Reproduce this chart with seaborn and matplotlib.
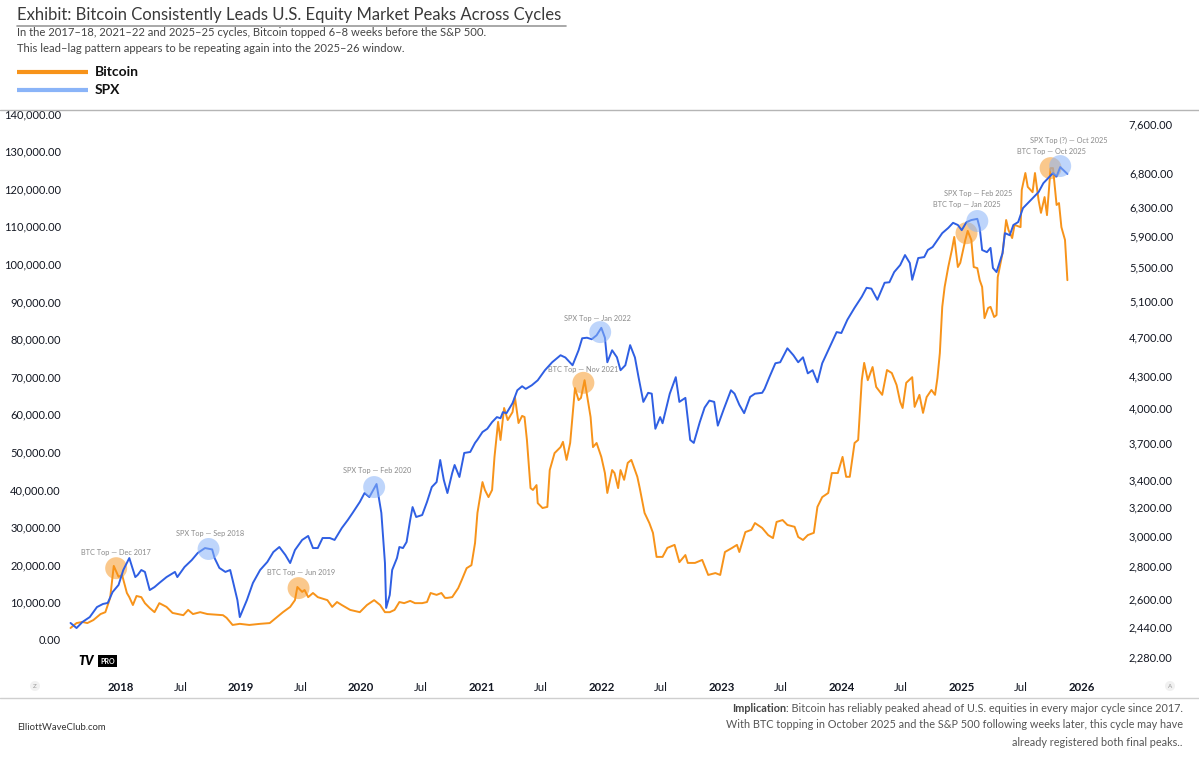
import pandas as pd
import matplotlib
matplotlib.use("Agg")
import matplotlib.pyplot as plt
from matplotlib.lines import Line2D
from matplotlib.patches import Rectangle
from matplotlib.ticker import FixedLocator, FuncFormatter, NullLocator
import seaborn as sns

# weekly-ish closes (decimal years)
btc_years = [
    2017.58, 2017.63, 2017.68, 2017.72, 2017.77, 2017.83, 2017.87, 2017.91, 2017.94, 2017.98,
    2018.01, 2018.05, 2018.07, 2018.10, 2018.13, 2018.17, 2018.20, 2018.24, 2018.28, 2018.32,
    2018.38, 2018.43, 2018.52, 2018.56, 2018.60, 2018.66, 2018.72, 2018.85, 2018.88, 2018.93,
    2018.99, 2019.07, 2019.16, 2019.24, 2019.30, 2019.35, 2019.41, 2019.45, 2019.47, 2019.51,
    2019.53, 2019.56, 2019.60, 2019.64, 2019.72, 2019.76, 2019.80, 2019.84, 2019.91, 2019.99,
    2020.05, 2020.11, 2020.16, 2020.20, 2020.24, 2020.28, 2020.32, 2020.36, 2020.41, 2020.45,
    2020.51, 2020.55, 2020.58, 2020.63, 2020.67, 2020.70, 2020.72, 2020.76, 2020.81, 2020.84,
    2020.88, 2020.92, 2020.95, 2020.97, 2021.01, 2021.03, 2021.06, 2021.09, 2021.11, 2021.14,
    2021.16, 2021.19, 2021.22, 2021.26, 2021.28, 2021.31, 2021.34, 2021.36, 2021.38, 2021.41,
    2021.43, 2021.46, 2021.47, 2021.51, 2021.55, 2021.57, 2021.61, 2021.66, 2021.68, 2021.71,
    2021.74, 2021.78, 2021.81, 2021.83, 2021.86, 2021.88, 2021.91, 2021.93, 2021.96, 2022.00,
    2022.03, 2022.05, 2022.09, 2022.11, 2022.14, 2022.16, 2022.19, 2022.22, 2022.25, 2022.30,
    2022.32, 2022.36, 2022.40, 2022.43, 2022.46, 2022.49, 2022.51, 2022.55, 2022.61, 2022.65,
    2022.70, 2022.72, 2022.78, 2022.84, 2022.89, 2022.95, 2022.99, 2023.03, 2023.09, 2023.13,
    2023.15, 2023.20, 2023.25, 2023.28, 2023.34, 2023.39, 2023.43, 2023.46, 2023.51, 2023.55,
    2023.61, 2023.64, 2023.68, 2023.72, 2023.77, 2023.80, 2023.84, 2023.89, 2023.92, 2023.97,
    2024.01, 2024.04, 2024.07, 2024.11, 2024.14, 2024.17, 2024.19, 2024.22, 2024.26, 2024.29,
    2024.34, 2024.38, 2024.42, 2024.46, 2024.49, 2024.51, 2024.54, 2024.59, 2024.61, 2024.65,
    2024.68, 2024.71, 2024.75, 2024.78, 2024.80, 2024.82, 2024.84, 2024.86, 2024.89, 2024.92,
    2024.94, 2024.97, 2024.99, 2025.03, 2025.05, 2025.08, 2025.10, 2025.13, 2025.15, 2025.17,
    2025.19, 2025.22, 2025.24, 2025.27, 2025.29, 2025.30, 2025.34, 2025.37, 2025.39, 2025.42,
    2025.44, 2025.49, 2025.50, 2025.53, 2025.55, 2025.59, 2025.61, 2025.64, 2025.66, 2025.69,
    2025.71, 2025.74, 2025.76, 2025.79, 2025.81, 2025.83, 2025.86, 2025.88,
]
btc_close = [
    3190, 4500, 4800, 4500, 5300, 6900, 7400, 11200, 19700, 16800,
    17300, 12500, 11400, 9300, 11700, 11400, 9800, 8500, 7400, 9800,
    8800, 7200, 6600, 8000, 6900, 7400, 6900, 6600, 5900, 4000,
    4300, 4000, 4300, 4500, 6100, 7400, 8800, 10600, 14100, 12800,
    13300, 11400, 12500, 11400, 10600, 8800, 10100, 9300, 8000, 7400,
    9300, 10600, 9300, 7400, 7400, 8000, 10100, 9800, 10400, 9800,
    9800, 10100, 12500, 12000, 12500, 11200, 11200, 11400, 13800, 16000,
    19100, 19900, 25800, 33800, 42000, 39900, 38000, 39900, 48700, 58000,
    53200, 61700, 58500, 60600, 64600, 57700, 59600, 59300, 53200, 40400,
    39900, 41200, 36400, 35100, 35400, 45200, 49700, 51300, 52700, 47900,
    52400, 67000, 63800, 64400, 69100, 65200, 59300, 51300, 52400, 48700,
    44400, 39100, 45200, 44400, 40400, 45200, 42600, 47100, 47900, 43400,
    40400, 33800, 31100, 28500, 22100, 22100, 22100, 24500, 25300, 20700,
    22600, 20500, 20500, 21300, 17300, 17800, 17300, 23400, 24500, 25300,
    23400, 28700, 29300, 31100, 29800, 27900, 27100, 31400, 31900, 30600,
    30100, 27400, 26600, 27900, 28500, 35400, 38000, 39100, 44400, 44400,
    48700, 43400, 43400, 52400, 53200, 69100, 73700, 69100, 72600, 67300,
    65200, 71800, 71000, 67800, 63300, 61700, 68400, 69900, 62000, 65200,
    60400, 64600, 66500, 65200, 69700, 76300, 88600, 93900, 99200, 103700,
    107200, 99200, 100300, 106400, 108800, 106400, 99200, 98900, 95700, 93900,
    85600, 88300, 88600, 85900, 86400, 96500, 102900, 111700, 109000, 106900,
    110400, 109800, 119700, 124200, 120500, 119100, 124200, 117000, 113600, 117800,
    113000, 125500, 125500, 115700, 116200, 109800, 106400, 95700,
]

spx_years = [
    2017.58, 2017.63, 2017.68, 2017.74, 2017.80, 2017.85, 2017.89, 2017.93, 2017.98, 2018.02,
    2018.07, 2018.12, 2018.14, 2018.17, 2018.20, 2018.24, 2018.28, 2018.32, 2018.38, 2018.45,
    2018.47, 2018.53, 2018.59, 2018.64, 2018.70, 2018.76, 2018.78, 2018.82, 2018.87, 2018.91,
    2018.93, 2018.97, 2018.99, 2019.05, 2019.10, 2019.16, 2019.22, 2019.27, 2019.32, 2019.37,
    2019.41, 2019.45, 2019.51, 2019.56, 2019.60, 2019.64, 2019.68, 2019.74, 2019.78, 2019.84,
    2019.89, 2019.93, 2019.99, 2020.03, 2020.07, 2020.13, 2020.17, 2020.20, 2020.21, 2020.24,
    2020.26, 2020.30, 2020.32, 2020.35, 2020.38, 2020.41, 2020.43, 2020.46, 2020.51, 2020.55,
    2020.59, 2020.63, 2020.66, 2020.69, 2020.72, 2020.76, 2020.78, 2020.82, 2020.86, 2020.91,
    2020.95, 2020.97, 2021.01, 2021.05, 2021.09, 2021.13, 2021.16, 2021.18, 2021.21, 2021.26,
    2021.30, 2021.34, 2021.37, 2021.42, 2021.47, 2021.53, 2021.59, 2021.66, 2021.70, 2021.76,
    2021.81, 2021.84, 2021.88, 2021.92, 2021.96, 2022.00, 2022.03, 2022.05, 2022.09, 2022.13,
    2022.16, 2022.20, 2022.24, 2022.28, 2022.31, 2022.35, 2022.39, 2022.42, 2022.45, 2022.49,
    2022.51, 2022.57, 2022.62, 2022.65, 2022.70, 2022.74, 2022.77, 2022.82, 2022.86, 2022.90,
    2022.94, 2022.97, 2023.02, 2023.08, 2023.11, 2023.15, 2023.19, 2023.24, 2023.28, 2023.34,
    2023.36, 2023.40, 2023.45, 2023.49, 2023.55, 2023.60, 2023.64, 2023.68, 2023.72, 2023.76,
    2023.80, 2023.84, 2023.89, 2023.96, 2024.00, 2024.05, 2024.11, 2024.17, 2024.21, 2024.25,
    2024.30, 2024.36, 2024.40, 2024.44, 2024.49, 2024.53, 2024.57, 2024.59, 2024.64, 2024.69,
    2024.72, 2024.76, 2024.80, 2024.84, 2024.89, 2024.93, 2024.97, 2025.00, 2025.04, 2025.08,
    2025.13, 2025.15, 2025.17, 2025.21, 2025.24, 2025.26, 2025.29, 2025.34, 2025.36, 2025.40,
    2025.43, 2025.47, 2025.51, 2025.55, 2025.59, 2025.64, 2025.68, 2025.72, 2025.76, 2025.79,
    2025.82, 2025.84, 2025.88,
]
spx_close = [
    2462, 2434, 2468, 2495, 2552, 2570, 2576, 2640, 2683, 2775,
    2851, 2731, 2744, 2775, 2763, 2652, 2670, 2695, 2731, 2763,
    2731, 2794, 2838, 2884, 2916, 2907, 2851, 2788, 2763, 2775,
    2714, 2593, 2495, 2593, 2695, 2775, 2826, 2890, 2923, 2871,
    2819, 2903, 2970, 2997, 2916, 2916, 2983, 2983, 2970, 3051,
    3107, 3157, 3236, 3302, 3272, 3370, 3157, 2819, 2547, 2623,
    2775, 2851, 2923, 2916, 2956, 3107, 3199, 3128, 3142, 3236,
    3347, 3385, 3558, 3401, 3302, 3455, 3518, 3424, 3615, 3623,
    3698, 3725, 3790, 3818, 3876, 3920, 3910, 3964, 3955, 4045,
    4165, 4203, 4178, 4212, 4260, 4358, 4437, 4508, 4485, 4407,
    4559, 4684, 4690, 4674, 4716, 4796, 4690, 4437, 4559, 4487,
    4358, 4407, 4612, 4485, 4290, 4057, 4141, 4133, 3818, 3920,
    3866, 4133, 4290, 4057, 4094, 3723, 3698, 3876, 4005, 4069,
    4057, 3845, 3990, 4165, 4133, 4030, 3955, 4103, 4133, 4141,
    4178, 4290, 4427, 4437, 4579, 4508, 4437, 4487, 4327, 4358,
    4241, 4427, 4559, 4750, 4740, 4884, 5018, 5145, 5250, 5240,
    5110, 5310, 5316, 5440, 5527, 5653, 5552, 5346, 5615, 5627,
    5718, 5757, 5849, 5940, 6010, 6080, 6050, 5980, 6090, 6118,
    6135, 6010, 5718, 5690, 5745, 5490, 5440, 5678, 5940, 5912,
    6050, 6090, 6285, 6356, 6429, 6517, 6650, 6726, 6803, 6750,
    6896, 6860, 6790,
]

# marked tops
btc_top_labels = ["BTC Top — Dec 2017", "BTC Top — Jun 2019", "BTC Top — Nov 2021",
                  "BTC Top — Jan 2025", "BTC Top — Oct 2025"]
btc_top_years = [2017.96, 2019.48, 2021.85, 2025.04, 2025.74]
btc_top_values = [19100, 13800, 68400, 108200, 125500]

spx_top_labels = ["SPX Top — Sep 2018", "SPX Top — Feb 2020", "SPX Top — Jan 2022",
                  "SPX Top — Feb 2025", "SPX Top (?) — Oct 2025"]
spx_top_years = [2018.73, 2020.11, 2021.99, 2025.13, 2025.82]
spx_top_values = [2910, 3347, 4750, 6105, 6912]

btc_ticks = list(range(0, 140001, 10000))
spx_ticks = [2280, 2440, 2600, 2800, 3000, 3200, 3400, 3700, 4000, 4300,
             4700, 5100, 5500, 5900, 6300, 6800, 7600]

BTC_COLOR = "#F7931A"
SPX_COLOR = "#2F5FE3"
SPX_LIGHT = "#8AB4F8"
TICK_COLOR = "#131722"
W, H = 1199, 762


def to_dates(years):
    return [pd.Timestamp(int(y), 1, 1) + pd.Timedelta(days=(y - int(y)) * 365.25) for y in years]


def fx(px):
    return px / W


def fy(px):
    return 1 - px / H


def main():
    sns.set_style("white")
    plt.rcParams["font.family"] = ["Lato", "DejaVu Sans"]

    fig = plt.figure(figsize=(W / 100, H / 100), dpi=100)
    ax = fig.add_axes([fx(65), fy(675), fx(1115) - fx(65), fy(110) - fy(675)])

    sns.lineplot(x=to_dates(btc_years), y=btc_close, ax=ax, color=BTC_COLOR, linewidth=1.4)
    ax.set_ylim(-9309, 140957)
    ax.yaxis.set_major_locator(FixedLocator(btc_ticks))
    ax.yaxis.set_major_formatter(FuncFormatter(lambda v, p: f"{v:,.2f}"))

    ax2 = ax.twinx()
    ax2.set_yscale("log")
    sns.lineplot(x=to_dates(spx_years), y=spx_close, ax=ax2, color=SPX_COLOR, linewidth=1.4)
    ax2.set_ylim(2189, 7845)
    ax2.yaxis.set_major_locator(FixedLocator(spx_ticks))
    ax2.yaxis.set_minor_locator(NullLocator())
    ax2.yaxis.set_major_formatter(FuncFormatter(lambda v, p: f"{v:,.2f}"))

    ax.set_xlim(to_dates([2017.534])[0], to_dates([2026.277])[0])
    xt = sorted([pd.Timestamp(y, 1, 1) for y in range(2018, 2027)] +
                [pd.Timestamp(y, 7, 1) for y in range(2018, 2026)])
    ax.set_xticks(xt, [str(d.year) if d.month == 1 else "Jul" for d in xt])
    for lab in ax.get_xticklabels():
        if lab.get_text() != "Jul":
            lab.set_fontweight("bold")

    for a in (ax, ax2):
        a.set_xlabel("")
        a.set_ylabel("")
        a.grid(False)
        for s in a.spines.values():
            s.set_visible(False)
    ax.tick_params(axis="x", length=0, pad=5, labelsize=8.2, colors=TICK_COLOR)
    ax.tick_params(axis="y", length=0, pad=3, labelsize=8, colors=TICK_COLOR)
    ax2.tick_params(axis="y", length=0, pad=10, labelsize=8, colors=TICK_COLOR)

    # top circles and labels
    btc_offsets = [(0, 16), (3, 16), (0, 13), (0, 29), (1, 17)]
    spx_offsets = [(1, 15), (3, 17), (-3, 14), (1, 28), (9, 26)]
    ax.scatter(to_dates(btc_top_years), btc_top_values, s=250, color=BTC_COLOR,
               alpha=0.5, edgecolor="none", zorder=5)
    for lab, d, v, off in zip(btc_top_labels, to_dates(btc_top_years), btc_top_values, btc_offsets):
        ax.annotate(lab, (d, v), xytext=off, textcoords="offset pixels", ha="center",
                    va="center", fontsize=5.3, color="#8a8a8a")
    ax2.scatter(to_dates(spx_top_years), spx_top_values, s=250, color=SPX_LIGHT,
                alpha=0.55, edgecolor="none", zorder=5)
    for lab, d, v, off in zip(spx_top_labels, to_dates(spx_top_years), spx_top_values, spx_offsets):
        ax2.annotate(lab, (d, v), xytext=off, textcoords="offset pixels", ha="center",
                     va="center", fontsize=5.3, color="#8a8a8a")

    # header
    fig.add_artist(Rectangle((0, fy(110)), 1, 110 / H, transform=fig.transFigure,
                             facecolor="white", edgecolor="none", zorder=1))
    fig.add_artist(Line2D([0, 1], [fy(110)] * 2, color="#b5b5b5", lw=1, zorder=2))
    fig.text(fx(17), fy(15), "Exhibit: Bitcoin Consistently Leads U.S. Equity Market Peaks Across Cycles",
             fontsize=12, color="#3a3a3a", va="center", zorder=3)
    fig.add_artist(Line2D([fx(17), fx(566)], [fy(26)] * 2, color="#9a9a9a", lw=1.2, zorder=2))
    fig.text(fx(17), fy(32), "In the 2017–18, 2021–22 and 2025–25 cycles, Bitcoin topped 6–8 weeks before the S&P 500.",
             fontsize=8.1, color="#444444", va="center", zorder=3)
    fig.text(fx(17), fy(48), "This lead–lag pattern appears to be repeating again into the 2025–26 window.",
             fontsize=8.1, color="#444444", va="center", zorder=3)
    for yy, col, name in [(72, BTC_COLOR, "Bitcoin"), (90, SPX_LIGHT, "SPX")]:
        fig.add_artist(Line2D([fx(17), fx(88)], [fy(yy)] * 2, color=col, lw=3, zorder=3,
                              solid_capstyle="butt"))
        fig.text(fx(95), fy(yy), name, fontsize=10, fontweight="bold", color="#111111",
                 va="center", zorder=3)

    # chart furniture
    fig.text(fx(78), fy(661), "TV", fontsize=9, fontweight="heavy", style="italic",
             color="black", va="center")
    fig.text(fx(100), fy(661), "PRO", fontsize=5, fontweight="bold", color="white", va="center",
             bbox=dict(boxstyle="square,pad=0.3", facecolor="black", edgecolor="none"))
    for px, ch in [(35, "Z"), (1170, "A")]:
        fig.text(fx(px), fy(686), ch, fontsize=4.5, color="#9a9a9a", ha="center", va="center",
                 bbox=dict(boxstyle="circle,pad=0.4", facecolor="#f1f1f1", edgecolor="none"))
    fig.add_artist(Line2D([0, 1], [fy(698)] * 2, color="#cfcfcf", lw=1))

    # footer
    fig.text(fx(17), fy(727), "ElliottWaveClub.com", fontsize=6.8, color="#333333", va="center")
    foot = ["With BTC topping in October 2025 and the S&P 500 following weeks later, this cycle may have",
            "already registered both final peaks.."]
    t1 = fig.text(fx(1183), fy(709), ": Bitcoin has reliably peaked ahead of U.S. equities in every major cycle since 2017.",
                  fontsize=7.8, color="#555555", ha="right", va="center")
    for i, line in enumerate(foot):
        fig.text(fx(1183), fy(725 + 17 * i), line, fontsize=7.8, color="#555555", ha="right", va="center")
    fig.canvas.draw()
    bb = t1.get_window_extent()
    fig.text(bb.x0 / W, fy(709), "Implication", fontsize=7.8, fontweight="bold", color="#444444",
             ha="right", va="center")

    fig.savefig("out.png", dpi=100)


if __name__ == "__main__":
    main()
